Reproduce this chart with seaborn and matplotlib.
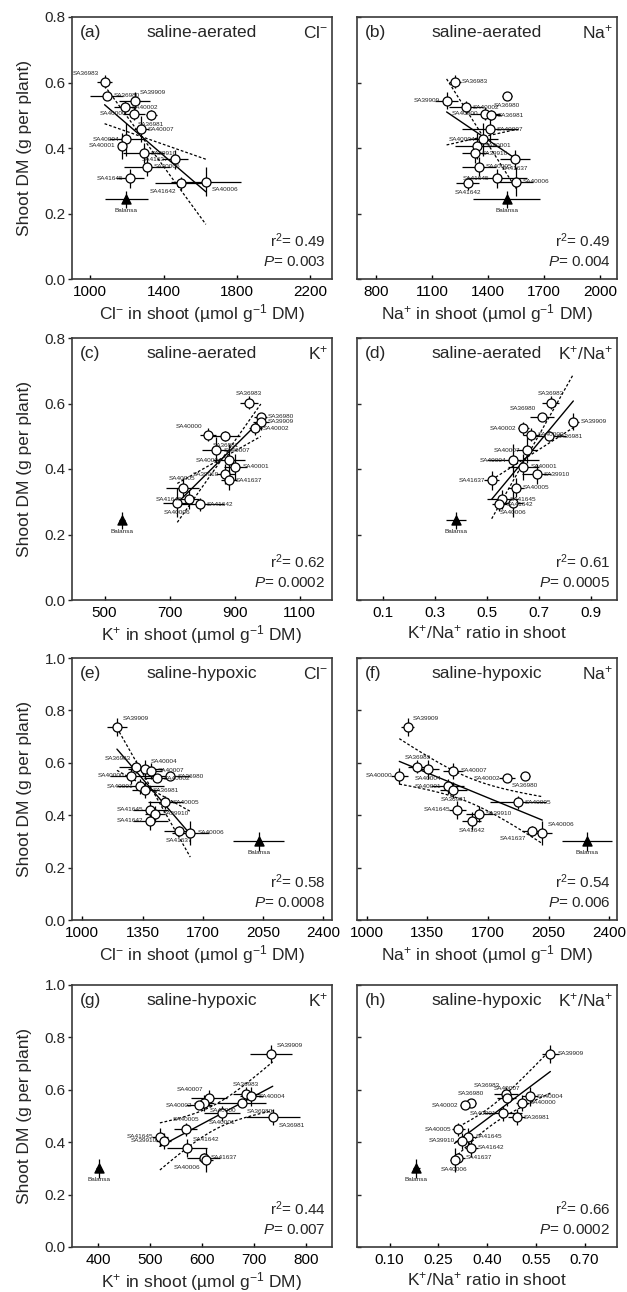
import numpy as np
import pandas as pd
import matplotlib
matplotlib.use("Agg")
import matplotlib.pyplot as plt
import seaborn as sns

# ---------------- data ----------------
aer_names = ['SA36983', 'SA36980', 'SA39909', 'SA40002', 'SA40000', 'SA36981', 'SA40007', 'SA40004',
             'SA40001', 'SA39910', 'SA41637', 'SA40005', 'SA41645', 'SA40006', 'SA41642']
aer_dm = [0.602, 0.559, 0.545, 0.524, 0.505, 0.500, 0.457, 0.427, 0.407, 0.384, 0.365, 0.343, 0.307, 0.297, 0.292]
aer_dm_err = [0.02, 0.012, 0.025, 0.02, 0.02, 0.015, 0.04, 0.05, 0.04, 0.03, 0.03, 0.03, 0.028, 0.045, 0.02]
aer_bal_dm, aer_bal_dm_err = 0.243, 0.025

hyp_names = ['SA39909', 'SA36983', 'SA40004', 'SA40007', 'SA40000', 'SA36980', 'SA40002', 'SA40001',
             'SA36981', 'SA40005', 'SA41645', 'SA39910', 'SA41642', 'SA41637', 'SA40006']
hyp_dm = [0.737, 0.585, 0.575, 0.570, 0.550, 0.548, 0.541, 0.510, 0.495, 0.449, 0.420, 0.405, 0.378, 0.340, 0.333]
hyp_dm_err = [0.035, 0.025, 0.035, 0.03, 0.03, 0.015, 0.015, 0.03, 0.03, 0.025, 0.035, 0.03, 0.035, 0.02, 0.045]
hyp_bal_dm, hyp_bal_dm_err = 0.30, 0.035

cl_aer = [1078, 1091, 1242, 1187, 1236, 1333, 1278, 1196, 1173, 1291, 1464, 1309, 1218, 1631, 1497]
cl_aer_err = [40, 90, 85, 60, 60, 30, 40, 95, 20, 110, 70, 125, 75, 190, 145]
cl_aer_bal, cl_aer_bal_err = 1196, 118

na_aer = [1223, 1500, 1179, 1282, 1384, 1416, 1411, 1372, 1343, 1330, 1545, 1352, 1447, 1550, 1291]
na_aer_err = [32, 27, 63, 90, 80, 55, 150, 80, 120, 70, 80, 90, 160, 90, 60]
na_aer_bal, na_aer_bal_err = 1500, 180

k_aer = [944, 981, 981, 964, 818, 872, 844, 883, 903, 872, 883, 740, 761, 724, 793]
k_aer_err = [28, 20, 25, 20, 25, 45, 45, 50, 35, 30, 25, 50, 30, 45, 75]
k_aer_bal, k_aer_bal_err = 554, 10

ratio_aer = [0.745, 0.711, 0.832, 0.640, 0.669, 0.740, 0.653, 0.601, 0.640, 0.691, 0.518, 0.612, 0.559, 0.599, 0.548]
ratio_aer_err = [0.032, 0.045, 0.02, 0.02, 0.03, 0.065, 0.04, 0.10, 0.06, 0.055, 0.03, 0.03, 0.06, 0.04, 0.03]
ratio_aer_bal, ratio_aer_bal_err = 0.381, 0.038

cl_hyp = [1201, 1313, 1366, 1400, 1284, 1511, 1434, 1337, 1366, 1482, 1395, 1424, 1395, 1559, 1627]
cl_hyp_err = [58, 100, 100, 60, 125, 115, 77, 135, 77, 100, 100, 58, 100, 87, 106]
cl_hyp_bal, cl_hyp_bal_err = 2024, 150

na_hyp = [1237, 1294, 1357, 1501, 1189, 1912, 1810, 1469, 1501, 1874, 1524, 1650, 1606, 1953, 2014]
na_hyp_err = [38, 57, 62, 57, 48, 29, 48, 95, 77, 160, 48, 77, 57, 57, 57]
na_hyp_bal, na_hyp_bal_err = 2272, 143

k_hyp = [733, 685, 695, 613, 604, 676, 594, 639, 736, 569, 519, 526, 571, 603, 608]
k_hyp_err = [41, 25, 22, 35, 19, 48, 25, 35, 52, 22, 15, 15, 38, 32, 13]
k_hyp_bal, k_hyp_bal_err = 401, 5

ratio_hyp = [0.595, 0.458, 0.532, 0.46, 0.509, 0.350, 0.333, 0.449, 0.491, 0.312, 0.343, 0.322, 0.351, 0.312, 0.300]
ratio_hyp_err = [0.025, 0.036, 0.025, 0.03, 0.02, 0.015, 0.015, 0.06, 0.025, 0.02, 0.02, 0.02, 0.02, 0.02, 0.015]
ratio_hyp_bal, ratio_hyp_bal_err = 0.183, 0.01

panel_tags = ['(a)', '(b)', '(c)', '(d)', '(e)', '(f)', '(g)', '(h)']
r2_texts = ['0.49', '0.49', '0.62', '0.61', '0.58', '0.54', '0.44', '0.66']
p_texts = ['0.003', '0.004', '0.0002', '0.0005', '0.0008', '0.006', '0.007', '0.0002']

# ---------------- style ----------------
sns.set_theme(style="ticks")
plt.rcParams['font.family'] = ['Liberation Sans', 'DejaVu Sans']
plt.rcParams['mathtext.fontset'] = 'custom'
plt.rcParams['mathtext.rm'] = 'Liberation Sans'
plt.rcParams['mathtext.it'] = 'Liberation Sans:italic'
plt.rcParams['mathtext.bf'] = 'Liberation Sans:bold'

W, H = 627, 1292
fig = plt.figure(figsize=(W / 100, H / 100), dpi=100)
lefts = [72, 357]
tops = [17, 338, 658, 985]
AW, AH = 260, 262

unit = " in shoot (µmol g$^{-1}$ DM)"
ratio_label = "K$^{+}$/Na$^{+}$ ratio in shoot"

panels = [
    dict(x=cl_aer, xe=cl_aer_err, bx=cl_aer_bal, bxe=cl_aer_bal_err, cond='aer', xlim=(900, 2320),
         xticks=[1000, 1400, 1800, 2200], xlabel="Cl$^{-}$" + unit, ion="Cl$^{-}$", band='slope',
         sides=['ul', 'r', 'ur', 'r', 'l', 'd', 'r', 'l', 'l', 'r', 'l', 'r', 'l', 'dr', 'dl']),
    dict(x=na_aer, xe=na_aer_err, bx=na_aer_bal, bxe=na_aer_bal_err, cond='aer', xlim=(700, 2090),
         xticks=[800, 1100, 1400, 1700, 2000], xlabel="Na$^{+}$" + unit, ion="Na$^{+}$", band='slope',
         sides=['r', 'd', 'l', 'r', 'l', 'r', 'r', 'l', 'r', 'r', 'd', 'r', 'l', 'r', 'd']),
    dict(x=k_aer, xe=k_aer_err, bx=k_aer_bal, bxe=k_aer_bal_err, cond='aer', xlim=(400, 1200),
         xticks=[500, 700, 900, 1100], xlabel="K$^{+}$" + unit, ion="K$^{+}$", band='slope',
         sides=['u', 'r', 'r', 'r', 'ul', 'd', 'r', 'l', 'r', 'l', 'r', 'u', 'l', 'd', 'r']),
    dict(x=ratio_aer, xe=ratio_aer_err, bx=ratio_aer_bal, bxe=ratio_aer_bal_err, cond='aer', xlim=(0.0, 1.0),
         xticks=[0.1, 0.3, 0.5, 0.7, 0.9], xlabel=ratio_label, ion="K$^{+}$/Na$^{+}$", band='slope',
         sides=['u', 'ul', 'r', 'l', 'r', 'r', 'l', 'l', 'r', 'r', 'l', 'r', 'r', 'd', 'r']),
    dict(x=cl_hyp, xe=cl_hyp_err, bx=cl_hyp_bal, bxe=cl_hyp_bal_err, cond='hyp', xlim=(940, 2450),
         xticks=[1000, 1350, 1700, 2050, 2400], xlabel="Cl$^{-}$" + unit, ion="Cl$^{-}$", band='slope',
         sides=['ur', 'ul', 'ur', 'r', 'l', 'r', 'r', 'l', 'r', 'r', 'l', 'r', 'l', 'd', 'r']),
    dict(x=na_hyp, xe=na_hyp_err, bx=na_hyp_bal, bxe=na_hyp_bal_err, cond='hyp', xlim=(945, 2445),
         xticks=[1000, 1350, 1700, 2050, 2400], xlabel="Na$^{+}$" + unit, ion="Na$^{+}$", band='mean',
         sides=['ur', 'u', 'd', 'r', 'l', 'd', 'l', 'l', 'd', 'r', 'l', 'r', 'd', 'dl', 'ur']),
    dict(x=k_hyp, xe=k_hyp_err, bx=k_hyp_bal, bxe=k_hyp_bal_err, cond='hyp', xlim=(350, 850),
         xticks=[400, 500, 600, 700, 800], xlabel="K$^{+}$" + unit, ion="K$^{+}$", band='mean',
         sides=['ur', 'u', 'r', 'ul', 'dr', 'dr', 'l', 'd', 'dr', 'u', 'l', 'l', 'ur', 'r', 'dl']),
    dict(x=ratio_hyp, xe=ratio_hyp_err, bx=ratio_hyp_bal, bxe=ratio_hyp_bal_err, cond='hyp', xlim=(0.0, 0.8),
         xticks=[0.10, 0.25, 0.40, 0.55, 0.70], xlabel=ratio_label, ion="K$^{+}$/Na$^{+}$", band='mean',
         sides=['r', 'ul', 'r', 'u', 'r', 'u', 'l', 'l', 'r', 'l', 'r', 'l', 'r', 'r', 'd']),
]

side_offsets = {
    'r': ((5, 0), 'left', 'center'), 'l': ((-5, 0), 'right', 'center'),
    'u': ((0, 5), 'center', 'bottom'), 'd': ((0, -5), 'center', 'top'),
    'ur': ((4, 4), 'left', 'bottom'), 'ul': ((-4, 4), 'right', 'bottom'),
    'dr': ((4, -4), 'left', 'top'), 'dl': ((-4, -4), 'right', 'top'),
}

T_CRIT = 2.160  # t(0.975, df=13)


def band_lines(x, y, kind, xs):
    n = len(x)
    xm, ym = x.mean(), y.mean()
    sxx = ((x - xm) ** 2).sum()
    b = ((x - xm) * (y - ym)).sum() / sxx
    a = ym - b * xm
    s = np.sqrt(((y - (a + b * x)) ** 2).sum() / (n - 2))
    if kind == 'slope':
        se = s / np.sqrt(sxx)
        return [ym + (b + k * T_CRIT * se) * (xs - xm) for k in (-1, 1)]
    half = T_CRIT * s * np.sqrt(1.0 / n + (xs - xm) ** 2 / sxx)
    return [a + b * xs - half, a + b * xs + half]


for i, cfg in enumerate(panels):
    row, col = divmod(i, 2)
    left, top = lefts[col], tops[row]
    ax = fig.add_axes([left / W, 1 - (top + AH) / H, AW / W, AH / H])
    if cfg['cond'] == 'aer':
        dm, dme, names, by, bye = aer_dm, aer_dm_err, aer_names, aer_bal_dm, aer_bal_dm_err
        cond_text = 'saline-aerated'
        ymax, yticks = 0.8, [0.0, 0.2, 0.4, 0.6, 0.8]
    else:
        dm, dme, names, by, bye = hyp_dm, hyp_dm_err, hyp_names, hyp_bal_dm, hyp_bal_dm_err
        cond_text = 'saline-hypoxic'
        ymax, yticks = 1.0, [0.0, 0.2, 0.4, 0.6, 0.8, 1.0]

    df = pd.DataFrame({'x': cfg['x'], 'y': dm, 'xe': cfg['xe'], 'ye': dme, 'name': names})

    ax.errorbar(df['x'], df['y'], xerr=df['xe'], yerr=df['ye'], fmt='none',
                ecolor='black', elinewidth=0.9, capsize=0, zorder=2)
    ax.errorbar([cfg['bx']], [by], xerr=[cfg['bxe']], yerr=[bye], fmt='none',
                ecolor='black', elinewidth=0.9, capsize=0, zorder=2)

    sns.regplot(data=df, x='x', y='y', scatter=False, ci=None, truncate=True, ax=ax,
                line_kws=dict(color='black', lw=1.0, zorder=3))

    xs = np.linspace(df['x'].min(), df['x'].max(), 100)
    for yb in band_lines(df['x'].to_numpy(float), df['y'].to_numpy(float), cfg['band'], xs):
        ax.plot(xs, yb, color='black', lw=0.9, ls=(0, (2.2, 1.6)), zorder=3)

    sns.scatterplot(data=df, x='x', y='y', ax=ax, marker='o', s=42, color='white',
                    edgecolor='black', linewidth=0.9, zorder=4, legend=False)
    ax.scatter([cfg['bx']], [by], marker='^', s=42, color='black', zorder=4)

    for xv, yv, nm, sd in zip(df['x'], df['y'], df['name'], cfg['sides']):
        off, ha, va = side_offsets[sd]
        ax.annotate(nm, (xv, yv), xytext=off, textcoords='offset points', ha=ha, va=va,
                    fontsize=4.6, color='#222222', zorder=5)
    ax.annotate('Balansa', (cfg['bx'], by), xytext=(0, -6), textcoords='offset points',
                ha='center', va='top', fontsize=4.6, color='#222222', zorder=5)

    ax.set_xlim(*cfg['xlim'])
    ax.set_ylim(0, ymax)
    ax.set_xticks(cfg['xticks'])
    if cfg['xlim'][1] <= 1.0:
        if cfg['cond'] == 'aer':
            ax.set_xticklabels([f"{v:.1f}" for v in cfg['xticks']])
        else:
            ax.set_xticklabels([f"{v:.2f}" for v in cfg['xticks']])
    else:
        ax.set_xticklabels([f"{v:d}" for v in cfg['xticks']])
    ax.set_yticks(yticks)
    ax.set_xlabel(cfg['xlabel'], fontsize=12.5)
    ax.xaxis.set_label_coords(0.5, -0.088)
    ax.tick_params(axis='x', direction='in', length=3, width=1.0, pad=4, labelsize=11, colors='black')
    if col == 0:
        ax.set_yticklabels([f"{v:.1f}" for v in yticks])
        ax.tick_params(axis='y', direction='out', length=3, width=1.0, pad=1.5, labelsize=11)
        ax.set_ylabel('Shoot DM (g per plant)', fontsize=12.5)
        ax.yaxis.set_label_coords(-0.155, 0.5)
    else:
        ax.tick_params(axis='y', direction='in', length=3, width=1.0, labelleft=False)
        ax.set_ylabel('')

    for s in ax.spines.values():
        s.set_linewidth(1.2)
        s.set_color('#3a3a3a')
        s.set_visible(True)
    ax.grid(False)

    ax.text(0.03, 0.94, panel_tags[i], transform=ax.transAxes, ha='left', va='center', fontsize=12.5)
    ax.text(0.5, 0.94, cond_text, transform=ax.transAxes, ha='center', va='center', fontsize=12.5)
    ax.text(0.985, 0.94, cfg['ion'], transform=ax.transAxes, ha='right', va='center', fontsize=12.5)
    ax.text(0.975, 0.145, "r$^{2}$= " + r2_texts[i], transform=ax.transAxes, ha='right', va='center',
            fontsize=11)
    ax.text(0.975, 0.065, "$P$= " + p_texts[i], transform=ax.transAxes, ha='right', va='center',
            fontsize=11)

fig.savefig('out.png', dpi=100)
